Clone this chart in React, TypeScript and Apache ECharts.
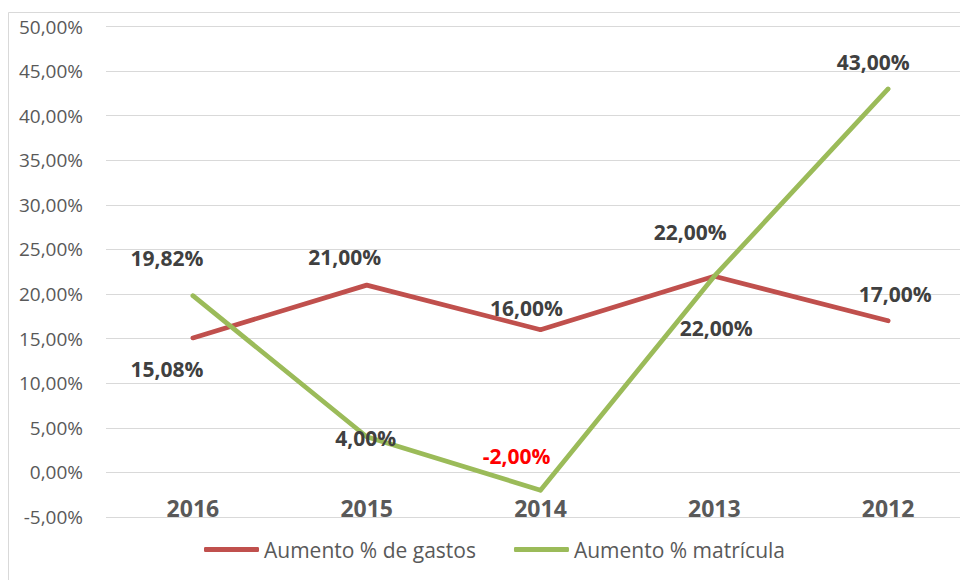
import React, { useEffect, useRef } from "react";
import * as echarts from "echarts";

const categories = ["2016", "2015", "2014", "2013", "2012"];
const gastos = [15.08, 21.0, 16.0, 22.0, 17.0];
const matricula = [19.82, 4.0, -2.0, 22.0, 43.0];
const seriesNames = ["Aumento % de gastos", "Aumento % matrícula"];

// label placement (style, not data)
const gastosLabelOffsets: [number, number][] = [[-26, 31], [-22, -28], [-14, -22], [-24, -44], [7, -27]];
const matriculaLabelOffsets: [number, number][] = [[-26, -38], [-1, 1], [-24, -34], [2, 52], [-15, -27]];

const fmt = (v: number) => v.toFixed(2).replace(".", ",") + "%";

const FONT = "Open Sans";

export default function App() {
  const ref = useRef<HTMLDivElement>(null);
  useEffect(() => {
    if (!ref.current) return;
    const chart = echarts.init(ref.current, null, { renderer: "svg" });
    const labelBase = {
      show: true,
      position: "inside",
      fontFamily: FONT,
      fontWeight: "bold",
      fontSize: 21,
      color: "#404040",
      formatter: (p: any) => fmt(p.value),
    };
    chart.setOption({
      animation: false,
      backgroundColor: "#ffffff",
      graphic: [
        {
          type: "rect",
          shape: { x: 8.5, y: 12.5, width: 1100, height: 1000 },
          style: { fill: "none", stroke: "#D9D9D9", lineWidth: 1 },
          silent: true,
        },
      ],
      grid: { left: 106, top: 26.5, bottom: 63, width: 869, containLabel: false },
      legend: {
        left: 199,
        top: 534,
        itemWidth: 55,
        itemHeight: 5,
        itemGap: 38,
        icon: "roundRect",
        textStyle: { fontFamily: FONT, fontSize: 21, color: "#595959" },
        data: [
          { name: seriesNames[0], itemStyle: { color: "#C0504D" } },
          { name: seriesNames[1], itemStyle: { color: "#9BBB59" } },
        ],
      },
      xAxis: {
        type: "category",
        data: categories,
        boundaryGap: true,
        axisLine: { show: false },
        axisTick: { show: false },
        axisLabel: {
          margin: -21,
          fontFamily: FONT,
          fontWeight: "bold",
          fontSize: 23,
          color: "#595959",
        },
      },
      yAxis: {
        type: "value",
        min: -5,
        max: 50,
        interval: 5,
        axisLine: { show: false },
        axisTick: { show: false },
        splitLine: { lineStyle: { color: "#D9D9D9", width: 1 } },
        axisLabel: {
          margin: 23,
          fontFamily: FONT,
          fontSize: 19,
          color: "#595959",
          formatter: (v: number) => fmt(v),
        },
      },
      series: [
        {
          name: seriesNames[0],
          type: "line",
          data: gastos.map((v, i) => ({
            value: v,
            label: { offset: gastosLabelOffsets[i] },
          })),
          symbol: "circle",
          symbolSize: 4,
          itemStyle: { color: "#C0504D" },
          lineStyle: { color: "#C0504D", width: 4.75, cap: "round", join: "round" },
          label: labelBase,
          z: 2,
        },
        {
          name: seriesNames[1],
          type: "line",
          data: matricula.map((v, i) => ({
            value: v,
            label: {
              offset: matriculaLabelOffsets[i],
              ...(v < 0 ? { color: "#FF0000" } : {}),
            },
          })),
          symbol: "circle",
          symbolSize: 4,
          itemStyle: { color: "#9BBB59" },
          lineStyle: { color: "#9BBB59", width: 4.75, cap: "round", join: "round" },
          label: labelBase,
          z: 3,
        },
      ],
    });
    return () => chart.dispose();
  }, []);
  return (
    <div
      style={{ position: "absolute", left: 0, top: 0, width: 960, height: 580, overflow: "hidden" }}
    >
      <div ref={ref} style={{ width: 1000, height: 580 }} />
    </div>
  );
}
